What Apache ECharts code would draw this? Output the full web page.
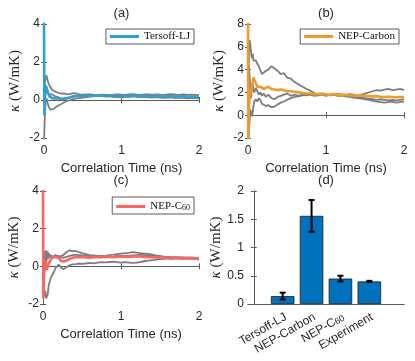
<!DOCTYPE html>
<html>
<head>
<meta charset="utf-8">
<script src="https://cdn.jsdelivr.net/npm/echarts@6/dist/echarts.min.js"></script>
<style>
  html, body { margin: 0; padding: 0; background: #fff; }
  #main { width: 415px; height: 361px; }
</style>
</head>
<body>
<div id="main"></div>
<script>
var myChart = echarts.init(document.getElementById('main'));

// correlation time (ns), shared by all running-kappa curves
var time = [0, 0.005, 0.01, 0.02, 0.03, 0.04, 0.05, 0.06, 0.07, 0.08,
    0.1, 0.12, 0.14, 0.16, 0.18, 0.2, 0.23, 0.26, 0.3, 0.34,
    0.38, 0.42, 0.46, 0.5, 0.55, 0.6, 0.65, 0.7, 0.75, 0.8,
    0.85, 0.9, 0.95, 1.0, 1.05, 1.1, 1.15, 1.2, 1.25, 1.3,
    1.35, 1.4, 1.45, 1.5, 1.55, 1.6, 1.65, 1.7, 1.75, 1.8,
    1.85, 1.9, 1.95, 2.0];

// (a) Tersoff-LJ
var tersoffRun1 = [0.2, 0.5, 0.9, 1.1, 1.3, 1.25, 1.0, 0.85, 0.8, 0.7,
    0.55, 0.5, 0.45, 0.42, 0.38, 0.36, 0.33, 0.35, 0.3, 0.32,
    0.36, 0.33, 0.3, 0.28, 0.3, 0.29, 0.27, 0.26, 0.28, 0.27,
    0.26, 0.28, 0.3, 0.28, 0.27, 0.29, 0.31, 0.28, 0.27, 0.3,
    0.29, 0.27, 0.3, 0.28, 0.27, 0.29, 0.31, 0.28, 0.27, 0.29,
    0.27, 0.28, 0.27, 0.26];
var tersoffRun2 = [-2.2, -1.6, -0.9, -0.2, 0.1, 0.0, -0.2, -0.35, -0.45, -0.5,
    -0.55, -0.48, -0.42, -0.36, -0.3, -0.26, -0.2, -0.12, -0.05, 0.0,
    0.04, 0.08, 0.1, 0.12, 0.15, 0.18, 0.2, 0.22, 0.2, 0.18,
    0.2, 0.17, 0.15, 0.14, 0.16, 0.18, 0.2, 0.17, 0.15, 0.16,
    0.14, 0.12, 0.15, 0.13, 0.11, 0.13, 0.12, 0.1, 0.12, 0.11,
    0.09, 0.1, 0.11, 0.1];
var tersoffRun3 = [0.5, 0.3, 0.6, 0.8, 0.6, 0.45, 0.35, 0.4, 0.3, 0.25,
    0.3, 0.25, 0.2, 0.22, 0.15, 0.1, 0.05, 0.02, 0.08, 0.12,
    0.18, 0.22, 0.25, 0.24, 0.22, 0.25, 0.23, 0.2, 0.22, 0.24,
    0.21, 0.19, 0.2, 0.22, 0.2, 0.18, 0.2, 0.22, 0.21, 0.19,
    0.2, 0.22, 0.2, 0.18, 0.19, 0.21, 0.2, 0.18, 0.17, 0.19,
    0.18, 0.16, 0.17, 0.15];
var tersoffMean = [4.5, -0.8, 0.1, 0.5, 0.7, 0.6, 0.4, 0.3, 0.2, 0.15,
    0.1, 0.1, 0.08, 0.1, 0.08, 0.07, 0.06, 0.08, 0.11, 0.15,
    0.2, 0.21, 0.22, 0.21, 0.22, 0.23, 0.23, 0.22, 0.23, 0.22,
    0.21, 0.2, 0.21, 0.2, 0.2, 0.21, 0.23, 0.21, 0.2, 0.21,
    0.2, 0.19, 0.21, 0.19, 0.18, 0.2, 0.2, 0.18, 0.18, 0.19,
    0.17, 0.17, 0.17, 0.16];

// (b) NEP-Carbon
var carbonRun1 = [4.0, 6.0, 5.0, 6.6, 6.2, 5.5, 5.0, 5.4, 4.8, 4.9,
    4.8, 4.5, 4.3, 3.9, 3.6, 3.7, 3.9, 4.0, 4.3, 4.1,
    3.9, 3.6, 3.7, 3.3, 3.2, 2.9, 2.7, 2.5, 2.3, 2.15,
    1.95, 1.8, 1.9, 1.85, 1.75, 1.8, 1.9, 1.8, 1.75, 1.85,
    1.8, 1.7, 1.8, 1.9, 2.0, 2.1, 2.2, 2.15, 2.25, 2.3,
    2.2, 2.25, 2.3, 2.2];
var carbonRun2 = [-2.5, -2.2, -1.5, -0.5, 0.5, 0.2, -0.1, 0.3, 0.8, 1.2,
    1.4, 1.2, 1.5, 1.3, 1.0, 1.1, 0.8, 0.9, 0.7, 0.75,
    0.95, 1.1, 1.2, 1.35, 1.5, 1.6, 1.65, 1.75, 1.8, 1.85,
    1.8, 1.85, 1.9, 1.8, 1.75, 1.8, 1.7, 1.75, 1.65, 1.6,
    1.55, 1.5, 1.45, 1.4, 1.35, 1.25, 1.2, 1.15, 1.1, 1.15,
    1.2, 1.1, 1.15, 1.2];
var carbonRun3 = [5.0, 6.0, 4.5, 3.5, 2.0, 1.5, 2.5, 2.8, 2.2, 2.0,
    2.4, 2.1, 1.8, 2.0, 1.7, 1.9, 1.6, 1.8, 1.5, 1.4,
    1.6, 1.7, 1.8, 1.9, 1.7, 1.8, 1.7, 1.8, 1.75, 1.8,
    1.7, 1.75, 1.8, 1.7, 1.8, 1.85, 1.75, 1.7, 1.75, 1.7,
    1.65, 1.6, 1.55, 1.5, 1.45, 1.4, 1.35, 1.4, 1.35, 1.3,
    1.35, 1.3, 1.35, 1.4];
var carbonMean = [8.5, -2.5, 0.5, 1.5, 2.2, 2.0, 2.5, 3.0, 3.3, 3.2,
    2.8, 2.5, 2.6, 2.5, 2.4, 2.3, 2.4, 2.5, 2.3, 2.25,
    2.2, 2.25, 2.2, 2.1, 2.1, 2.05, 2.0, 1.95, 1.9, 1.9,
    1.85, 1.85, 1.88, 1.82, 1.8, 1.85, 1.8, 1.78, 1.8, 1.75,
    1.72, 1.7, 1.72, 1.7, 1.68, 1.65, 1.67, 1.62, 1.6, 1.62,
    1.6, 1.58, 1.6, 1.6];

// (c) NEP-C60
var c60Run1 = [0.5, 0.2, 0.6, 0.8, 0.5, 0.85, 0.6, 0.8, 0.5, 0.65,
    0.6, 0.5, 0.45, 0.6, 0.55, 0.5, 0.55, 0.6, 0.75, 0.85,
    0.8, 0.82, 0.75, 0.7, 0.65, 0.6, 0.58, 0.55, 0.55, 0.56,
    0.6, 0.62, 0.65, 0.68, 0.7, 0.72, 0.75, 0.73, 0.7, 0.68,
    0.66, 0.62, 0.58, 0.55, 0.52, 0.5, 0.48, 0.47, 0.46, 0.45,
    0.46, 0.45, 0.44, 0.45];
var c60Run2 = [-0.5, -1.0, -1.4, -1.6, -1.3, -1.7, -1.8, -1.5, -1.1, -0.9,
    -0.6, -0.45, -0.3, -0.1, 0.0, 0.1, -0.05, -0.15, -0.05, 0.05,
    0.1, 0.12, 0.15, 0.13, 0.15, 0.18, 0.16, 0.2, 0.22, 0.21,
    0.23, 0.25, 0.22, 0.2, 0.22, 0.2, 0.18, 0.2, 0.23, 0.27,
    0.3, 0.33, 0.36, 0.38, 0.4, 0.42, 0.4, 0.42, 0.41, 0.4,
    0.42, 0.4, 0.38, 0.37];
var c60Run3 = [0.0, 0.5, 0.7, 0.3, 0.6, 0.1, 0.5, 0.7, 0.4, 0.6,
    0.5, 0.45, 0.55, 0.5, 0.6, 0.55, 0.5, 0.45, 0.5, 0.55,
    0.6, 0.62, 0.6, 0.58, 0.55, 0.52, 0.5, 0.52, 0.5, 0.48,
    0.5, 0.52, 0.55, 0.57, 0.55, 0.56, 0.58, 0.6, 0.62, 0.6,
    0.58, 0.56, 0.55, 0.52, 0.5, 0.5, 0.48, 0.49, 0.47, 0.48,
    0.46, 0.47, 0.45, 0.44];
var c60Mean = [4.5, -1.7, -0.8, 0.0, 0.3, 0.1, -0.2, 0.0, 0.1, 0.2,
    0.35, 0.5, 0.55, 0.5, 0.5, 0.45, 0.3, 0.25, 0.3, 0.4,
    0.45, 0.5, 0.48, 0.5, 0.47, 0.46, 0.48, 0.5, 0.49, 0.52,
    0.5, 0.49, 0.5, 0.52, 0.51, 0.5, 0.52, 0.53, 0.52, 0.5,
    0.48, 0.49, 0.47, 0.46, 0.47, 0.45, 0.44, 0.45, 0.43, 0.44,
    0.42, 0.43, 0.42, 0.41];

// (d) final kappa
var models = ['Tersoff-LJ', 'NEP-Carbon', 'NEP-C60', 'Experiment'];
var kappa = [0.14, 1.56, 0.45, 0.40];
var kappaErr = [0.06, 0.28, 0.05, 0.01];

var SANS = 'Liberation Sans';
var SERIF = 'Liberation Serif';
var FRAME = '#5a5a5a';
var TXT = '#262626';

var grids = [
    {left: 44, top: 24, width: 155, height: 114},
    {left: 248, top: 24, width: 156, height: 114},
    {left: 43, top: 191, width: 156, height: 113},
    {left: 248, top: 191, width: 156, height: 113}
];
grids.forEach(function (g) { g.outerBoundsMode = 'none'; });

function pairs(ys) {
    return time.map(function (t, i) { return [t, ys[i]]; });
}

function subFmt(name) {
    return name === 'NEP-C60' ? 'NEP-C{sub|60}' : name;
}

var xAxes = [], yAxes = [];
var yName = '{k|κ} (W/mK)';
var yNameStyle = {
    fontFamily: SERIF, fontSize: 15, color: TXT,
    rich: {k: {fontFamily: SERIF, fontSize: 15, fontStyle: 'italic', color: TXT}}
};

function addLineAxes(g, yMin, yMax, yInt, title) {
    xAxes.push({
        gridIndex: g, type: 'value', min: 0, max: 2, interval: 1, position: 'bottom',
        name: 'Correlation Time (ns)', nameLocation: 'middle', nameGap: 24,
        nameTextStyle: {fontFamily: SANS, fontSize: 13, color: TXT},
        axisLine: {lineStyle: {color: FRAME, width: 1}},
        axisTick: {inside: true, length: 3, lineStyle: {color: FRAME}},
        axisLabel: {fontFamily: SANS, fontSize: 12, color: TXT, margin: 7},
        splitLine: {show: false}
    });
    xAxes.push({
        gridIndex: g, type: 'value', min: 0, max: 2, interval: 1, position: 'top',
        name: title, nameLocation: 'middle', nameGap: 4,
        nameTextStyle: {fontFamily: SANS, fontSize: 13, color: TXT},
        axisLine: {lineStyle: {color: FRAME, width: 1}},
        axisTick: {inside: true, length: 3, lineStyle: {color: FRAME}},
        axisLabel: {show: false}, splitLine: {show: false}
    });
    yAxes.push({
        gridIndex: g, type: 'value', min: yMin, max: yMax, interval: yInt, position: 'left',
        name: yName, nameLocation: 'middle', nameGap: 21, nameTextStyle: yNameStyle,
        axisLine: {lineStyle: {color: FRAME, width: 1}},
        axisTick: {inside: true, length: 3, lineStyle: {color: FRAME}},
        axisLabel: {fontFamily: SANS, fontSize: 12, color: TXT, margin: 4},
        splitLine: {show: false}
    });
    yAxes.push({
        gridIndex: g, type: 'value', min: yMin, max: yMax, interval: yInt, position: 'right',
        axisLine: {lineStyle: {color: FRAME, width: 1}},
        axisTick: {inside: true, length: 3, lineStyle: {color: FRAME}},
        axisLabel: {show: false}, splitLine: {show: false}
    });
}

addLineAxes(0, -2, 4, 2, '(a)');
addLineAxes(1, -2, 8, 2, '(b)');
addLineAxes(2, -2, 4, 2, '(c)');

// (d) bar panel axes
xAxes.push({
    gridIndex: 3, type: 'value', min: -0.2, max: 5.2, position: 'bottom',
    axisLine: {lineStyle: {color: FRAME, width: 1}},
    axisTick: {show: false},
    axisLabel: {
        customValues: [1, 2, 3, 4], rotate: 30, margin: 7,
        align: 'right', verticalAlign: 'top',
        fontFamily: SANS, fontSize: 12, color: TXT,
        formatter: function (v) { return subFmt(models[Math.round(v) - 1] || ''); },
        rich: {sub: {fontFamily: SANS, fontSize: 9, color: TXT, verticalAlign: 'bottom', lineHeight: 9, padding: [6, 0, 0, 0]}}
    },
    splitLine: {show: false}
});
xAxes.push({
    gridIndex: 3, type: 'value', min: -0.2, max: 5.2, position: 'top',
    name: '(d)', nameLocation: 'middle', nameGap: 4,
    nameTextStyle: {fontFamily: SANS, fontSize: 13, color: TXT},
    axisLine: {lineStyle: {color: FRAME, width: 1}},
    axisTick: {show: false}, axisLabel: {show: false}, splitLine: {show: false}
});
yAxes.push({
    gridIndex: 3, type: 'value', min: 0, max: 2, interval: 0.5, position: 'left',
    name: yName, nameLocation: 'middle', nameGap: 20, nameTextStyle: yNameStyle,
    axisLine: {lineStyle: {color: FRAME, width: 1}},
    axisTick: {inside: true, length: 3, lineStyle: {color: FRAME}},
    axisLabel: {fontFamily: SANS, fontSize: 12, color: TXT, margin: 4},
    splitLine: {show: false}
});
yAxes.push({
    gridIndex: 3, type: 'value', min: 0, max: 2, interval: 0.5, position: 'right',
    axisLine: {lineStyle: {color: FRAME, width: 1}},
    axisTick: {inside: true, length: 3, lineStyle: {color: FRAME}},
    axisLabel: {show: false}, splitLine: {show: false}
});

function runLine(ys, g) {
    return {
        type: 'line', name: 'run' + g, xAxisIndex: g * 2, yAxisIndex: g * 2,
        data: pairs(ys), showSymbol: false, symbol: 'none', z: 2,
        lineStyle: {color: '#7d7d7d', width: 1.8}, itemStyle: {color: '#7d7d7d'}
    };
}
function meanLine(name, ys, g, color) {
    return {
        type: 'line', name: name, xAxisIndex: g * 2, yAxisIndex: g * 2,
        data: pairs(ys), showSymbol: false, symbol: 'none', z: 3,
        lineStyle: {color: color, width: 2.6}, itemStyle: {color: color}
    };
}

var series = [
    runLine(tersoffRun1, 0), runLine(tersoffRun2, 0), runLine(tersoffRun3, 0),
    meanLine('Tersoff-LJ', tersoffMean, 0, '#2F9FD8'),
    runLine(carbonRun1, 1), runLine(carbonRun2, 1), runLine(carbonRun3, 1),
    meanLine('NEP-Carbon', carbonMean, 1, '#EE9A2C'),
    runLine(c60Run1, 2), runLine(c60Run2, 2), runLine(c60Run3, 2),
    meanLine('NEP-C60', c60Mean, 2, '#FF6464'),
    {
        type: 'bar', name: 'kappa', xAxisIndex: 6, yAxisIndex: 6,
        data: kappa.map(function (k, i) { return [i + 1, k]; }),
        barWidth: 23.5,
        itemStyle: {color: '#0072BD', borderColor: '#1c1c1c', borderWidth: 0.8}
    },
    {
        type: 'custom', name: 'err', xAxisIndex: 6, yAxisIndex: 6, z: 5,
        data: kappa.map(function (k, i) { return [i + 1, k, kappaErr[i]]; }),
        encode: {x: 0, y: 1},
        renderItem: function (params, api) {
            var x = api.value(0), y = api.value(1), e = api.value(2);
            var top = api.coord([x, y + e]);
            var bot = api.coord([x, y - e]);
            var hw = 3;
            var st = {stroke: '#000', lineWidth: 2};
            return {
                type: 'group',
                children: [
                    {type: 'line', shape: {x1: top[0], y1: top[1], x2: bot[0], y2: bot[1]}, style: st},
                    {type: 'line', shape: {x1: top[0] - hw, y1: top[1], x2: top[0] + hw, y2: top[1]}, style: st},
                    {type: 'line', shape: {x1: bot[0] - hw, y1: bot[1], x2: bot[0] + hw, y2: bot[1]}, style: st}
                ]
            };
        }
    }
];

function legendFor(name, right, top) {
    return {
        data: [name], right: right, top: top, orient: 'horizontal',
        icon: 'rect', itemWidth: 29, itemHeight: 3, itemGap: 3,
        padding: [2, 4, 2, 4], backgroundColor: '#fff',
        borderColor: '#333', borderWidth: 0.8, selectedMode: false,
        formatter: subFmt,
        textStyle: {
            fontFamily: SERIF, fontSize: 11, color: '#111', padding: [0, 0, 0, 0],
            rich: {sub: {fontFamily: SERIF, fontSize: 8, color: '#111', verticalAlign: 'bottom', lineHeight: 8, padding: [5, 0, 0, 0]}}
        }
    };
}

option = {
    backgroundColor: '#fff',
    animation: false,
    grid: grids,
    xAxis: xAxes,
    yAxis: yAxes,
    legend: [
        legendFor('Tersoff-LJ', 221, 29),
        legendFor('NEP-Carbon', 16, 29),
        legendFor('NEP-C60', 221, 197)
    ],
    series: series
};

myChart.setOption(option);
</script>
</body>
</html>
